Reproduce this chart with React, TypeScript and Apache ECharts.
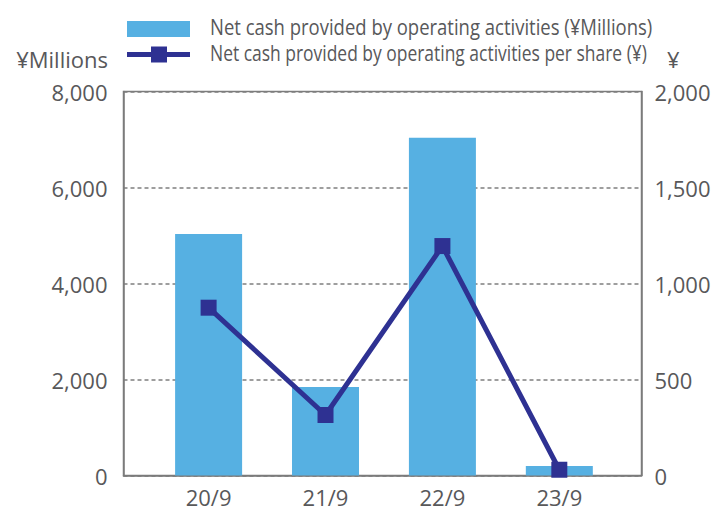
import React, { useEffect, useRef } from "react";
import * as echarts from "echarts";

const categories = ["20/9", "21/9", "22/9", "23/9"];
const cashMillions = [5030, 1845, 7035, 198];
const cashPerShare = [874, 315, 1195, 30];
const leftTicks = { min: 0, max: 8000, interval: 2000 };
const rightTicks = { min: 0, max: 2000, interval: 500 };
const barName = "Net cash provided by operating activities (¥Millions)";
const lineName = "Net cash provided by operating activities per share (¥)";
const leftAxisName = "¥Millions";
const rightAxisName = "¥";

const TICK_FONT = "'Open Sans', 'Noto Sans', sans-serif";
const TEXT_COLOR = "#58585a";
const AXIS_COLOR = "#7b7b7b";
const BAR_COLOR = "#56b0e2";
const LINE_COLOR = "#2e3192";
const FS = 22;

function measure(text: string, font: string): number {
  const c = document.createElement("canvas");
  const ctx = c.getContext("2d");
  if (!ctx) return 0;
  ctx.font = font;
  return ctx.measureText(text).width;
}

export default function App() {
  const ref = useRef<HTMLDivElement>(null);
  useEffect(() => {
    if (!ref.current) return;
    const chart = echarts.init(ref.current, null, { renderer: "svg" });
    const legendFontCss = "21px 'Open Sans'";
    const w1 = measure(barName, legendFontCss) || 550;
    const w2 = measure(lineName, legendFontCss) || 545;
    const s1 = 443 / w1;
    const s2 = 437 / w2;
    const legendText = (text: string, y: number, s: number) => ({
      type: "text",
      x: 210,
      y,
      scaleX: s,
      style: {
        text,
        fill: TEXT_COLOR,
        fontFamily: "'Open Sans'",
        fontSize: 21,
        verticalAlign: "middle",
        align: "left",
      },
    });
    chart.setOption({
      animation: false,
      backgroundColor: "#ffffff",
      grid: {
        left: 123.5,
        right: 72.5,
        top: 91.5,
        bottom: 37.5,
        show: true,
        borderColor: AXIS_COLOR,
        borderWidth: 1.5,
        backgroundColor: "transparent",
      },
      graphic: [
        { type: "rect", shape: { x: 127, y: 21, width: 63, height: 16 }, style: { fill: BAR_COLOR } },
        legendText(barName, 27, s1),
        { type: "line", shape: { x1: 127, y1: 54.5, x2: 190, y2: 54.5 }, style: { stroke: LINE_COLOR, lineWidth: 5 } },
        { type: "rect", shape: { x: 151, y: 46.5, width: 16, height: 16 }, style: { fill: LINE_COLOR } },
        legendText(lineName, 53, s2),
        {
          type: "text",
          x: 108,
          y: 59,
          style: { text: leftAxisName, fill: TEXT_COLOR, fontFamily: TICK_FONT, fontSize: FS, align: "right", verticalAlign: "middle" },
        },
        {
          type: "text",
          x: 667,
          y: 59,
          style: { text: rightAxisName, fill: TEXT_COLOR, fontFamily: TICK_FONT, fontSize: FS, align: "left", verticalAlign: "middle" },
        },
      ],
      xAxis: {
        type: "value",
        min: -0.728,
        max: 3.703,
        splitLine: { show: false },
        axisTick: { show: false },
        axisLine: { show: true, onZero: false, lineStyle: { color: AXIS_COLOR, width: 1.5 } },
        axisLabel: {
          customValues: [0, 1, 2, 3],
          formatter: (v: number) => categories[Math.round(v)] ?? "",
          fontFamily: TICK_FONT,
          fontSize: FS,
          color: TEXT_COLOR,
          margin: 10,
        },
      },
      yAxis: [
        {
          type: "value",
          min: leftTicks.min,
          max: leftTicks.max,
          interval: leftTicks.interval,
          axisLine: { show: true, onZero: false, lineStyle: { color: AXIS_COLOR, width: 1.5 } },
          axisTick: { show: false },
          axisLabel: {
            fontFamily: TICK_FONT,
            fontSize: FS,
            color: TEXT_COLOR,
            margin: 16,
            formatter: (v: number) => v.toLocaleString("en-US"),
          },
          splitLine: {
            show: true,
            lineStyle: { color: "#7f7f7f", width: 1.5, type: [4, 3] },
          },
        },
        {
          type: "value",
          min: rightTicks.min,
          max: rightTicks.max,
          interval: rightTicks.interval,
          position: "right",
          axisLine: { show: true, onZero: false, lineStyle: { color: AXIS_COLOR, width: 1.5 } },
          axisTick: { show: false },
          axisLabel: {
            fontFamily: TICK_FONT,
            fontSize: FS,
            color: TEXT_COLOR,
            margin: 13,
            formatter: (v: number) => v.toLocaleString("en-US"),
          },
          splitLine: { show: false },
        },
      ],
      series: [
        {
          name: barName,
          type: "bar",
          yAxisIndex: 0,
          barWidth: 67,
          itemStyle: { color: BAR_COLOR },
          data: categories.map((_, i) => [i, cashMillions[i]]),
          z: 2,
        },
        {
          name: lineName,
          type: "line",
          yAxisIndex: 1,
          symbol: "rect",
          symbolSize: 16,
          lineStyle: { color: LINE_COLOR, width: 5 },
          itemStyle: { color: LINE_COLOR },
          data: categories.map((_, i) => [i, cashPerShare[i]]),
          z: 3,
        },
      ],
    });
    return () => chart.dispose();
  }, []);
  return (
    <div
      ref={ref}
      style={{ position: "fixed", left: 0, top: 0, width: 714, height: 513 }}
    />
  );
}
